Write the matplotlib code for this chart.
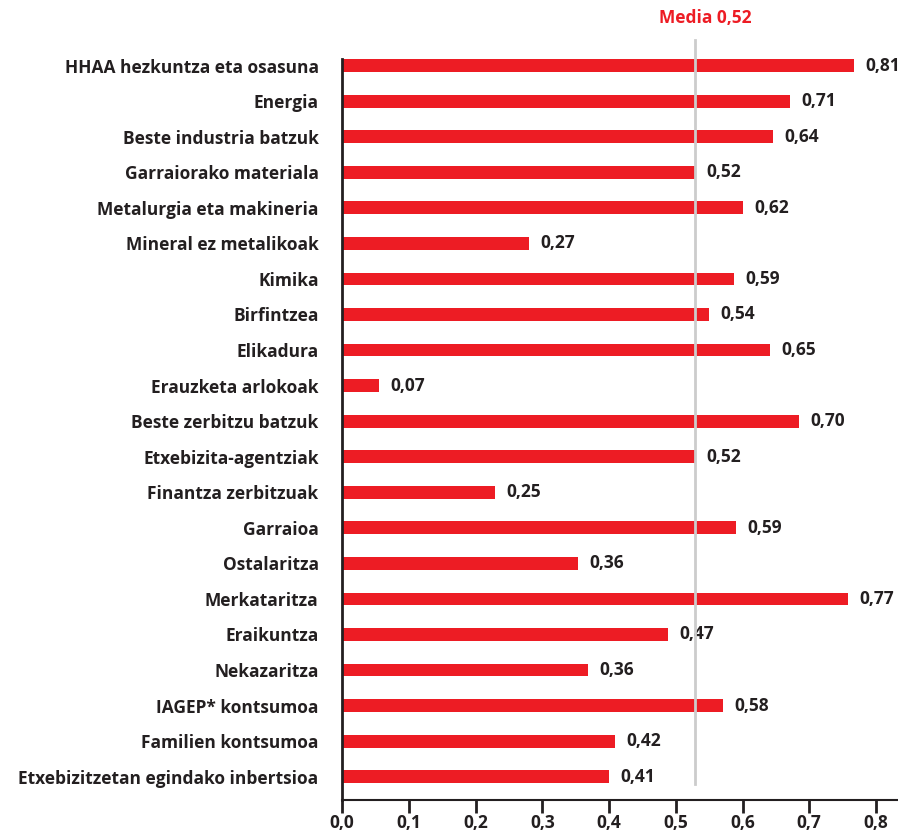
import matplotlib.pyplot as plt

# categories top to bottom
sectors = ["HHAA hezkuntza eta osasuna", "Energia", "Beste industria batzuk",
           "Garraiorako materiala", "Metalurgia eta makineria", "Mineral ez metalikoak",
           "Kimika", "Birfintzea", "Elikadura", "Erauzketa arlokoak",
           "Beste zerbitzu batzuk", "Etxebizita-agentziak", "Finantza zerbitzuak",
           "Garraioa", "Ostalaritza", "Merkataritza", "Eraikuntza", "Nekazaritza",
           "IAGEP* kontsumoa", "Familien kontsumoa", "Etxebizitzetan egindako inbertsioa"]
# bar lengths as drawn in the picture
bar_len = [0.767, 0.671, 0.646, 0.529, 0.601, 0.280, 0.587, 0.550, 0.641, 0.055,
           0.685, 0.529, 0.229, 0.590, 0.354, 0.758, 0.488, 0.369, 0.571, 0.409, 0.400]
# printed values
shown = ["0,81", "0,71", "0,64", "0,52", "0,62", "0,27", "0,59", "0,54", "0,65", "0,07",
         "0,70", "0,52", "0,25", "0,59", "0,36", "0,77", "0,47", "0,36", "0,58", "0,42", "0,41"]
mean_pos = 0.529
mean_text = "Media 0,52"
xticks = [0.0, 0.1, 0.2, 0.3, 0.4, 0.5, 0.6, 0.7, 0.8]

red = "#ED1C24"
dark = "#231F20"
plt.rcParams['font.family'] = ['Open Sans', 'DejaVu Sans']
fw = "bold"
fs = 12.5

fig = plt.figure(figsize=(8.98, 8.34), dpi=100)
ax = fig.add_axes([0.381, 0.041, 0.619, 0.888])

ypos = list(range(len(sectors)))
ax.barh(ypos, bar_len, height=0.36, color=red, zorder=2)
for y, w, s in zip(ypos, bar_len, shown):
    ax.annotate(s, (w, y), xytext=(8, 0), textcoords="offset points",
                va="center", ha="left", fontsize=fs, fontweight=fw, color=dark)

ax.axvline(mean_pos, ymin=0.0216, ymax=1.0256, color="#CCCCCC", lw=2,
           zorder=3, clip_on=False)
ax.text(0.544, 1.055, mean_text, transform=ax.get_xaxis_transform(),
        ha="center", va="center", color=red, fontsize=fs, fontweight=fw)

ax.set_xlim(0, 0.833)
ax.set_ylim(20.65, -0.18)
ax.set_yticks(ypos)
ax.set_yticklabels(sectors, fontsize=fs, fontweight=fw, color=dark)
ax.set_xticks(xticks)
ax.set_xticklabels([f"{t:.1f}".replace(".", ",") for t in xticks],
                   fontsize=fs, fontweight=fw, color=dark)
ax.tick_params(axis="y", length=0, pad=17)
ax.tick_params(axis="x", length=9, width=2, color=dark, direction="out", pad=1)

for side in ["top", "right"]:
    ax.spines[side].set_visible(False)
ax.spines["left"].set_color(dark)
ax.spines["left"].set_linewidth(2)
ax.spines["bottom"].set_color(dark)
ax.spines["bottom"].set_linewidth(1.5)

fig.savefig("out.png", dpi=100)
